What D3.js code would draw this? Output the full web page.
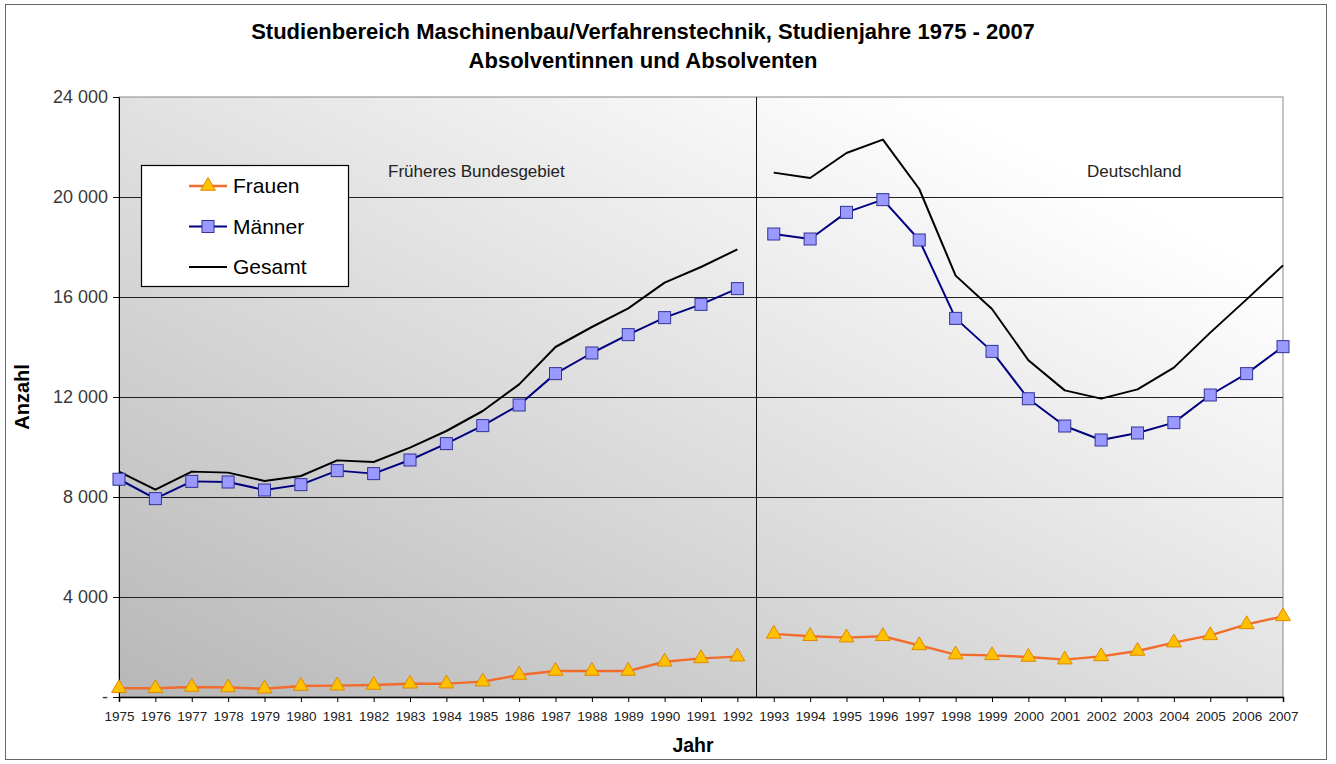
<!DOCTYPE html>
<html>
<head>
<meta charset="utf-8">
<script src="https://cdn.jsdelivr.net/npm/d3@7"></script>
<style>
  body { margin: 0; background: #fff; }
  svg { display: block; font-family: "Liberation Sans", Arial, sans-serif; }
</style>
</head>
<body>
<div id="chart"></div>
<script>
// Jahre 1975 - 2007
let years = d3.range(1975, 2008);
let frauen = [350, 350, 400, 380, 330, 440, 455, 480, 530, 535, 615, 880, 1040, 1040, 1040, 1410, 1545, 1615,
    2525, 2430, 2375, 2430, 2065, 1695, 1665, 1600, 1495, 1625, 1840, 2175, 2465, 2905, 3225];
let maenner = [8710, 7935, 8625, 8600, 8280, 8495, 9055, 8935, 9480, 10135, 10855, 11680, 12935, 13760, 14495, 15175, 15705, 16335,
    18520, 18320, 19385, 19895, 18280, 15145, 13825, 11930, 10840, 10280, 10560, 10975, 12080, 12935, 14015];
let gesamt = [9015, 8295, 9015, 8975, 8640, 8840, 9465, 9400, 9975, 10640, 11440, 12505, 14000, 14800, 15545, 16575, 17200, 17905,
    20975, 20760, 21760, 22295, 20320, 16855, 15520, 13470, 12265, 11935, 12305, 13175, 14575, 15905, 17265];
let yTicks = [0, 4000, 8000, 12000, 16000, 20000, 24000];
let lastOldYear = 1992; // Früheres Bundesgebiet bis 1992, danach Deutschland

let width = 1336, height = 764;
let margin = {left: 119, right: 53, top: 97, bottom: 67};

let svg = d3.select("#chart").append("svg").attr("width", width).attr("height", height);

// outer frame
svg.append("rect").attr("x", 5.5).attr("y", 4.5).attr("width", 1321).attr("height", 755)
    .attr("fill", "#fff").attr("stroke", "#666").attr("stroke-width", 1);

let x = d3.scaleLinear().domain([1975, 2007]).range([margin.left, width - margin.right]);
let y = d3.scaleLinear().domain([0, 24000]).range([height - margin.bottom, margin.top]);

//Background gradient of the plot area
let grad = svg.append("defs").append("linearGradient").attr("id", "bg")
    .attr("x1", 0).attr("y1", 1).attr("x2", 1).attr("y2", 0);
grad.append("stop").attr("offset", "0%").attr("stop-color", "#b7b7b7");
grad.append("stop").attr("offset", "85%").attr("stop-color", "#ffffff");

svg.append("rect").attr("x", x(1975)).attr("y", y(24000))
    .attr("width", x(2007) - x(1975)).attr("height", y(0) - y(24000))
    .attr("fill", "url(#bg)").attr("stroke", "#888").attr("stroke-width", 1);

// gridlines
svg.append("g").selectAll("line").data(yTicks.filter(d => d > 0 && d < 24000)).enter().append("line")
    .attr("x1", x(1975)).attr("x2", x(2007))
    .attr("y1", d => Math.round(y(d)) + 0.5).attr("y2", d => Math.round(y(d)) + 0.5)
    .attr("stroke", "#222").attr("stroke-width", 1);

// separator between Früheres Bundesgebiet / Deutschland
let sepX = Math.round(x(lastOldYear + 0.5)) + 0.5;
svg.append("line").attr("x1", sepX).attr("x2", sepX).attr("y1", y(24000)).attr("y2", y(0))
    .attr("stroke", "#111").attr("stroke-width", 1);

// axes
let yAxis = d3.axisLeft(y).tickValues(yTicks).tickSize(6).tickPadding(5)
    .tickFormat(d => d === 0 ? "-" : d3.format(",")(d).replace(",", " "));
let gy = svg.append("g").attr("transform", `translate(${x(1975)},0)`).call(yAxis);
gy.select(".domain").attr("stroke", "#000");
gy.selectAll("text").attr("font-size", 18).attr("fill", "#3a3a3a").attr("font-family", "Liberation Sans, Arial");

let xAxis = d3.axisBottom(x).tickValues(years).tickFormat(d3.format("d")).tickSize(5).tickPadding(9);
let gx = svg.append("g").attr("transform", `translate(0,${y(0)})`).call(xAxis);
gx.select(".domain").attr("stroke", "#000").attr("stroke-width", 1.5);
gx.selectAll("text").attr("font-size", 13.5).attr("fill", "#222")
    .attr("font-family", "Liberation Sans, Arial");

// titles
svg.append("text").attr("x", 643).attr("y", 39).attr("text-anchor", "middle")
    .attr("font-size", 22).attr("font-weight", "bold")
    .text("Studienbereich Maschinenbau/Verfahrenstechnik, Studienjahre 1975 - 2007");
svg.append("text").attr("x", 643).attr("y", 68).attr("text-anchor", "middle")
    .attr("font-size", 22).attr("font-weight", "bold")
    .text("Absolventinnen und Absolventen");
svg.append("text").attr("transform", "translate(29,397) rotate(-90)").attr("text-anchor", "middle")
    .attr("font-size", 20).attr("font-weight", "bold").text("Anzahl");
svg.append("text").attr("x", 693).attr("y", 752).attr("text-anchor", "middle")
    .attr("font-size", 19.5).attr("font-weight", "bold").text("Jahr");

// region labels
svg.append("text").attr("x", 388).attr("y", 177).attr("font-size", 17).attr("fill", "#222").text("Früheres Bundesgebiet");
svg.append("text").attr("x", 1087).attr("y", 177).attr("font-size", 17).attr("fill", "#222").text("Deutschland");

let series = [
    {name: "Frauen", values: frauen, line: "#f26c2c", width: 2.5, marker: "triangle", fill: "#ffc000", stroke: "#e08a00"},
    {name: "Männer", values: maenner, line: "#000080", width: 2, marker: "square", fill: "#9999ff", stroke: "#333399"},
    {name: "Gesamt", values: gesamt, line: "#000000", width: 2, marker: null}
];

let lineGen = d3.line().x(d => x(d.year)).y(d => y(d.value));
let triangle = d3.symbol().type(d3.symbolTriangle).size(95);

function drawMarker(g, s, cx, cy) {
    if (s.marker === "square") {
        g.append("rect").attr("x", cx - 6).attr("y", cy - 6).attr("width", 12).attr("height", 12)
            .attr("fill", s.fill).attr("stroke", s.stroke).attr("stroke-width", 1);
    } else if (s.marker === "triangle") {
        g.append("path").attr("d", triangle()).attr("transform", `translate(${cx},${cy})`)
            .attr("fill", s.fill).attr("stroke", s.stroke).attr("stroke-width", 1);
    }
}

// draw Gesamt first, then Männer, then Frauen
series.slice().reverse().forEach(s => {
    let pts = years.map((yr, i) => ({year: yr, value: s.values[i]}));
    let parts = [pts.filter(p => p.year <= lastOldYear), pts.filter(p => p.year > lastOldYear)];
    let g = svg.append("g");
    parts.forEach(part => {
        g.append("path").datum(part).attr("d", lineGen).attr("fill", "none")
            .attr("stroke", s.line).attr("stroke-width", s.width).attr("stroke-linejoin", "round");
    });
    pts.forEach(p => drawMarker(g, s, x(p.year), y(p.value)));
});

// legend
let legend = svg.append("g");
legend.append("rect").attr("x", 141.5).attr("y", 165.5).attr("width", 207).attr("height", 121)
    .attr("fill", "#fff").attr("stroke", "#000").attr("stroke-width", 1.2);
series.forEach((s, i) => {
    let ly = 186 + i * 40.5;
    let row = legend.append("g");
    row.append("line").attr("x1", 189).attr("x2", 227).attr("y1", ly).attr("y2", ly)
        .attr("stroke", s.line).attr("stroke-width", s.width);
    drawMarker(row, s, 208, ly);
    row.append("text").attr("x", 233).attr("y", ly + 7).attr("font-size", 21).attr("fill", "#000").text(s.name);
});
</script>
</body>
</html>
